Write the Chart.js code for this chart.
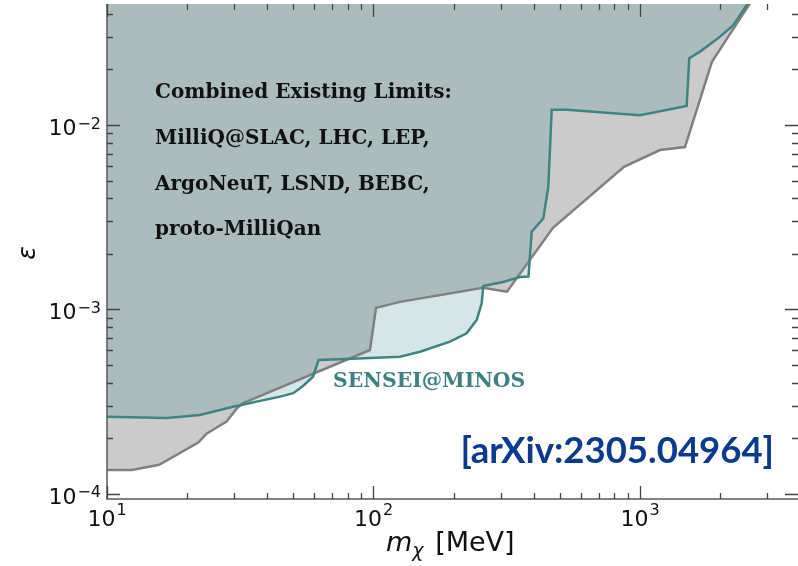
<!DOCTYPE html>
<html>
<head>
<meta charset="utf-8">
<script src="https://cdn.jsdelivr.net/npm/chart.js@4/dist/chart.umd.min.js"></script>
<style>
  html, body { margin: 0; padding: 0; background: #fff; overflow: hidden; }
  #wrap { width: 798px; height: 566px; }
</style>
</head>
<body>
<div id="wrap"><canvas id="myChart" width="798" height="566"></canvas></div>
<script>
// combined existing limits (lower edge of the excluded region)
var massExisting = [10, 12.4, 15.7, 22.0, 23.7, 28.1, 30.7, 32.4, 97.0, 102.2, 125.8, 257.6, 316.9, 471.6, 871, 1189, 1475, 1862, 2587];
var epsExisting = [1.35e-4, 1.35e-4, 1.44e-4, 1.90e-4, 2.13e-4, 2.47e-4, 2.91e-4, 3.11e-4, 6.03e-4, 1.02e-3, 1.10e-3, 1.31e-3, 1.25e-3, 2.77e-3, 5.94e-3, 7.32e-3, 7.60e-3, 2.20e-2, 4.57e-2];

// SENSEI@MINOS limit
var massSensei = [10, 16.8, 22.3, 29.7, 44.6, 50.0, 54.4, 59.3, 62.2, 70.5, 97.0, 125.8, 149.5, 193.6, 223.7, 243.9, 254.7, 258.2, 306.2, 354.6, 381.6, 392.3, 433.7, 452.9, 466.4, 530.9, 1000, 1497, 1531, 1680, 1963, 2240, 2513, 2640];
var epsSensei = [2.62e-4, 2.58e-4, 2.68e-4, 2.97e-4, 3.37e-4, 3.52e-4, 3.85e-4, 4.32e-4, 5.32e-4, 5.35e-4, 5.45e-4, 5.55e-4, 5.90e-4, 6.69e-4, 7.43e-4, 8.77e-4, 1.08e-3, 1.34e-3, 1.41e-3, 1.50e-3, 1.51e-3, 2.64e-3, 3.12e-3, 4.63e-3, 1.21e-2, 1.21e-2, 1.13e-2, 1.27e-2, 2.30e-2, 2.50e-2, 2.95e-2, 3.48e-2, 4.47e-2, 5.0e-2];

var xMajor = [10, 100, 1000];
var xMinor = [20, 30, 40, 50, 60, 70, 80, 90, 200, 300, 400, 500, 600, 700, 800, 900, 2000, 3000];
var yMajor = [1e-4, 1e-3, 1e-2];
var yMinor = [2e-4, 3e-4, 4e-4, 5e-4, 6e-4, 7e-4, 8e-4, 9e-4, 2e-3, 3e-3, 4e-3, 5e-3, 6e-3, 7e-3, 8e-3, 9e-3, 2e-2, 3e-2, 4e-2];
var xExp = ['1', '2', '3'];
var yExp = ['\u22124', '\u22123', '\u22122'];

var textLines = ['Combined Existing Limits:', 'MilliQ@SLAC, LHC, LEP,', 'ArgoNeuT, LSND, BEBC,', 'proto-MilliQan'];

function pts(xs, ys) {
  return xs.map(function (x, i) { return {x: x, y: ys[i]}; });
}

var axesPlugin = {
  id: 'axesDeco',
  afterDatasetsDraw: function (chart) {
    var ctx = chart.ctx, a = chart.chartArea;
    var sx = chart.scales.x, sy = chart.scales.y;
    ctx.save();

    // annotation text
    ctx.fillStyle = '#111';
    ctx.font = 'bold 20px "DejaVu Serif"';
    ctx.textAlign = 'left';
    ctx.textBaseline = 'alphabetic';
    textLines.forEach(function (t, i) { ctx.fillText(t, 155, 98 + i * 45.8); });

    ctx.fillStyle = '#3f8080';
    ctx.font = 'bold 20.4px "DejaVu Serif"';
    ctx.fillText('SENSEI@MINOS', 333, 387);

    ctx.fillStyle = '#0b3a8f';
    ctx.font = 'bold 36.5px Lato';
    ctx.textAlign = 'right';
    ctx.fillText('[arXiv:2305.04964]', 774, 463);

    // spines
    ctx.strokeStyle = '#5a5a5a';
    ctx.lineWidth = 1.5;
    ctx.beginPath();
    ctx.moveTo(a.left, a.top); ctx.lineTo(a.left, a.bottom); ctx.lineTo(a.right, a.bottom);
    ctx.stroke();

    // ticks, pointing inward on all sides
    ctx.strokeStyle = '#444';
    ctx.lineWidth = 1.3;
    ctx.beginPath();
    function xt(v, len) {
      var p = Math.round(sx.getPixelForValue(v)) + 0.5;
      ctx.moveTo(p, a.bottom); ctx.lineTo(p, a.bottom - len);
      ctx.moveTo(p, a.top); ctx.lineTo(p, a.top + len);
    }
    function yt(v, len) {
      var p = Math.round(sy.getPixelForValue(v)) + 0.5;
      ctx.moveTo(a.left, p); ctx.lineTo(a.left + len, p);
      ctx.moveTo(a.right, p); ctx.lineTo(a.right - len, p);
    }
    xMajor.forEach(function (v) { xt(v, 13); });
    xMinor.forEach(function (v) { xt(v, 6); });
    yMajor.forEach(function (v) { yt(v, 13); });
    yMinor.forEach(function (v) { yt(v, 6); });
    ctx.stroke();

    // tick labels 10^n
    ctx.fillStyle = '#111';
    var big = '22px "DejaVu Sans"', small = '16px "DejaVu Sans"';
    ctx.textAlign = 'left';
    xMajor.forEach(function (v, i) {
      ctx.font = big; var w1 = ctx.measureText('10').width;
      ctx.font = small; var w2 = ctx.measureText(xExp[i]).width;
      var x0 = sx.getPixelForValue(v) - (w1 + w2 + 1) / 2;
      ctx.font = big; ctx.fillText('10', x0, 526);
      ctx.font = small; ctx.fillText(xExp[i], x0 + w1 + 1, 515);
    });
    yMajor.forEach(function (v, i) {
      var py = sy.getPixelForValue(v);
      ctx.font = small; var w2 = ctx.measureText(yExp[i]).width;
      ctx.font = big; var w1 = ctx.measureText('10').width;
      var x0 = 101 - w2 - w1 - 1;
      ctx.fillText('10', x0, py + 10);
      ctx.font = small; ctx.fillText(yExp[i], x0 + w1 + 1, py + 3.5);
    });

    // axis titles
    ctx.font = 'italic 27px "DejaVu Sans"';
    var mx = 386;
    ctx.fillText('m', mx, 551);
    mx += ctx.measureText('m').width;
    ctx.font = 'italic 19px "DejaVu Sans"';
    ctx.fillText('\u03c7', mx, 557);
    mx += ctx.measureText('\u03c7').width + 3;
    ctx.font = '27px "DejaVu Sans"';
    ctx.fillText(' [MeV]', mx, 551);

    ctx.translate(35, 253);
    ctx.rotate(-Math.PI / 2);
    ctx.textAlign = 'center';
    ctx.font = 'italic 25px "DejaVu Sans"';
    ctx.fillText('\u03b5', 0, 0);
    ctx.restore();
  }
};

var ctx = document.getElementById('myChart');
var myChart = new Chart(ctx, {
  type: 'line',
  data: {
    datasets: [
      {
        label: 'Combined Existing Limits',
        data: pts(massExisting, epsExisting),
        borderColor: '#808080',
        borderWidth: 2.5,
        backgroundColor: '#cbcbcb',
        fill: 'end',
        pointRadius: 0,
        tension: 0,
        order: 2
      },
      {
        label: 'SENSEI@MINOS',
        data: pts(massSensei, epsSensei),
        borderColor: '#3f8383',
        borderWidth: 2.5,
        backgroundColor: 'rgba(50,130,135,0.2)',
        fill: 'end',
        pointRadius: 0,
        tension: 0,
        order: 1
      }
    ]
  },
  options: {
    responsive: false,
    animation: false,
    devicePixelRatio: 1,
    layout: { padding: { left: 107, right: 0, top: 4, bottom: 67 } },
    scales: {
      x: { type: 'logarithmic', min: 10, max: 3917, display: false },
      y: { type: 'logarithmic', min: 9.39e-5, max: 0.0453, display: false }
    },
    plugins: {
      legend: { display: false },
      tooltip: { enabled: false },
      filler: { drawTime: 'beforeDatasetsDraw' }
    }
  },
  plugins: [axesPlugin]
});
</script>
</body>
</html>
